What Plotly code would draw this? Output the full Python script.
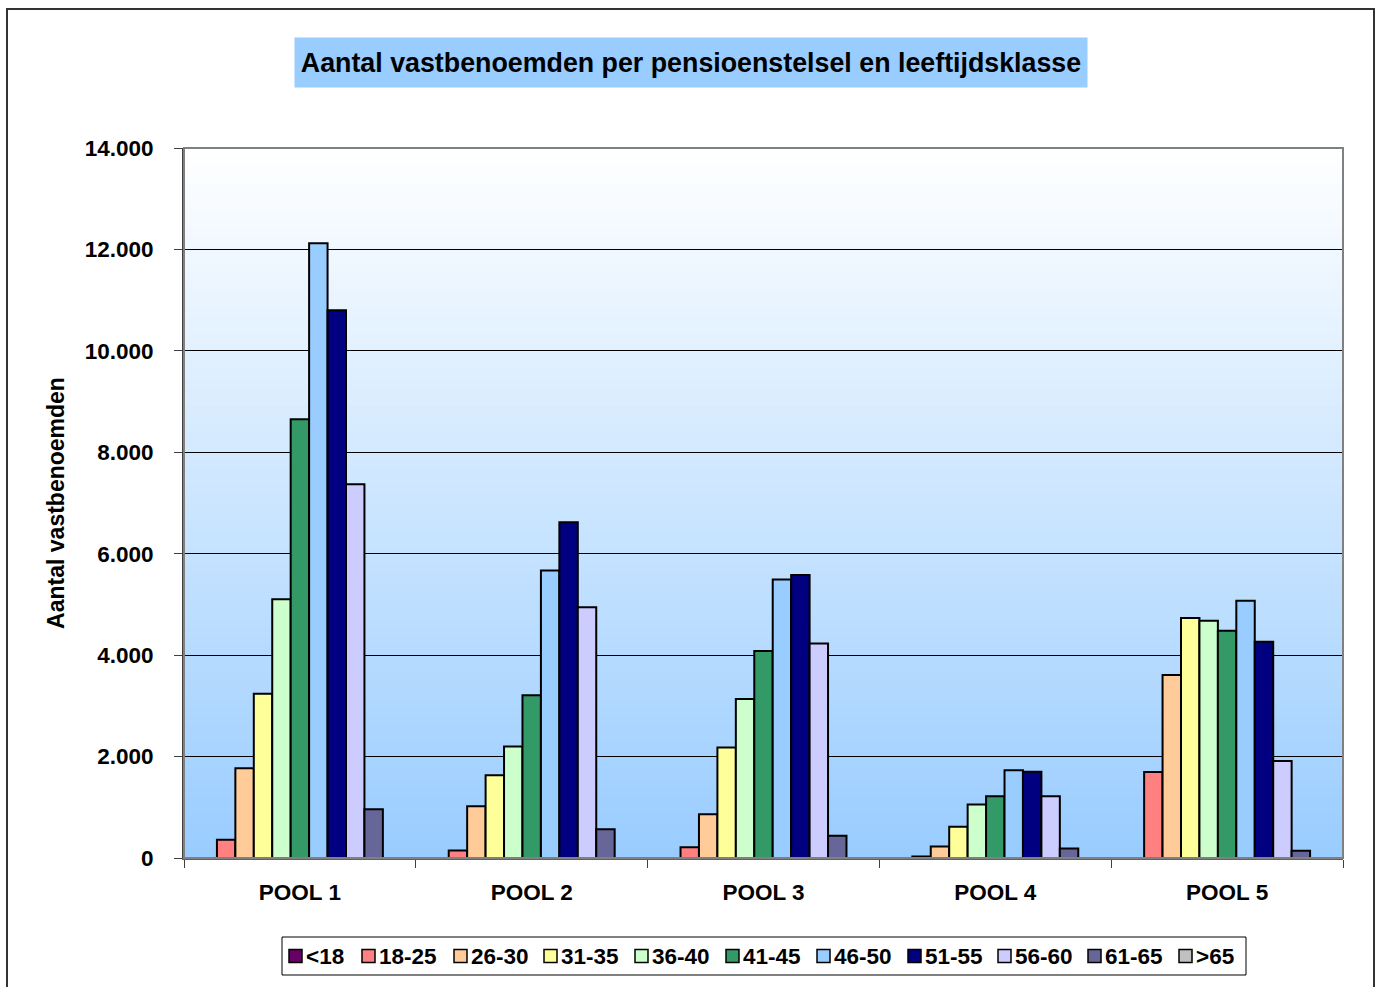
import plotly.graph_objects as go

pools = ["POOL 1", "POOL 2", "POOL 3", "POOL 4", "POOL 5"]
age_classes = ["<18", "18-25", "26-30", "31-35", "36-40", "41-45",
               "46-50", "51-55", "56-60", "61-65", ">65"]

v_lt18 = [0, 0, 0, 0, 0]
v_18_25 = [360, 150, 210, 30, 1695]
v_26_30 = [1770, 1020, 865, 225, 3610]
v_31_35 = [3240, 1630, 2180, 615, 4730]
v_36_40 = [5100, 2200, 3135, 1055, 4680]
v_41_45 = [8650, 3210, 4080, 1220, 4480]
v_46_50 = [12120, 5670, 5490, 1730, 5075]
v_51_55 = [10800, 6620, 5580, 1700, 4265]
v_56_60 = [7370, 4945, 4230, 1220, 1915]
v_61_65 = [960, 565, 440, 185, 145]
v_gt65 = [0, 0, 0, 0, 0]

series_values = [v_lt18, v_18_25, v_26_30, v_31_35, v_36_40, v_41_45,
                 v_46_50, v_51_55, v_56_60, v_61_65, v_gt65]
colors = ["#660066", "#FF8080", "#FFCC99", "#FFFF99", "#CCFFCC", "#339966",
          "#99CCFF", "#000080", "#CCCCFF", "#666699", "#C0C0C0"]

FONT = "Liberation Sans, Arial, sans-serif"
FS = 22.5

# figure geometry (pixels)
W, H = 1378, 987
ML, MR, MT, MB = 184, 35, 148, 129
PW, PH = W - ML - MR, H - MT - MB


def px(x):
    return (x - ML) / PW


def py(y):
    return (H - MB - y) / PH


fig = go.Figure()
for name, vals, col in zip(age_classes, series_values, colors):
    fig.add_trace(go.Bar(
        x=pools, y=vals, name=name, showlegend=False,
        marker=dict(color=col, line=dict(color="black", width=2)),
    ))

shapes = []
# gradient background of the plot area (overlapping strips to avoid seams)
N = 80
top = (255, 255, 255)
bot = (153, 204, 255)
for i in range(N):
    f = (i + 0.5) / N
    c = tuple(int(round(bot[k] + (top[k] - bot[k]) * f)) for k in range(3))
    shapes.append(dict(type="rect", xref="paper", yref="paper",
                       x0=0, x1=1, y0=i / N, y1=min(1.0, (i + 1.6) / N),
                       fillcolor="rgb(%d,%d,%d)" % c, line=dict(width=0),
                       layer="below"))
# plot area border
shapes.append(dict(type="rect", xref="paper", yref="paper", x0=0, x1=1, y0=0, y1=1,
                   line=dict(color="#808080", width=2), layer="above"))
# outer chart frame
shapes.append(dict(type="rect", xref="paper", yref="paper",
                   x0=px(7), x1=px(1374), y0=py(1010), y1=py(9),
                   line=dict(color="#333333", width=2), layer="above"))

annotations = [dict(
    text="<b>Aantal vastbenoemden per pensioenstelsel en leeftijdsklasse</b>",
    xref="paper", yref="paper", x=px(691), y=py(63),
    xanchor="center", yanchor="middle", showarrow=False,
    bgcolor="#99CCFF", width=790, height=47,
    font=dict(family=FONT, size=26.8, color="black"))]

# legend (box, swatches, labels)
leg_sym_x = [289, 362, 454, 544, 635, 726, 817, 908, 998, 1088, 1179]
leg_y = 956
shapes.append(dict(type="rect", xref="paper", yref="paper",
                   x0=px(282), x1=px(1246), y0=py(975), y1=py(937),
                   line=dict(color="black", width=1), fillcolor="white",
                   layer="above"))
for name, col, sx in zip(age_classes, colors, leg_sym_x):
    shapes.append(dict(type="rect", xref="paper", yref="paper",
                       x0=px(sx), x1=px(sx + 13), y0=py(leg_y + 6.5), y1=py(leg_y - 6.5),
                       fillcolor=col, line=dict(color="black", width=1.5),
                       layer="above"))
    annotations.append(dict(text="<b>%s</b>" % name.replace("<", "&lt;").replace(">", "&gt;"),
                            xref="paper", yref="paper", x=px(sx + 16), y=py(leg_y),
                            xanchor="left", yanchor="middle", showarrow=False,
                            borderpad=0,
                            font=dict(family=FONT, size=FS, color="black")))

fig.update_layout(
    width=W, height=H,
    margin=dict(l=ML, r=MR, t=MT, b=MB),
    paper_bgcolor="white",
    plot_bgcolor="rgba(0,0,0,0)",
    separators=",.",
    barmode="group",
    bargap=0.125,
    bargroupgap=0,
    font=dict(family=FONT, size=FS, color="black"),
    shapes=shapes,
    annotations=annotations,
    showlegend=False,
)
fig.update_yaxes(
    range=[0, 14000], dtick=2000, tickformat=",d",
    showgrid=True, gridcolor="black", gridwidth=1,
    ticks="outside", ticklen=8, tickcolor="#404040",
    showline=True, linecolor="#404040", linewidth=2,
    ticklabelstandoff=16,
    tickfont=dict(family=FONT, size=FS, color="black", weight="bold"),
    title=dict(text="<b>Aantal vastbenoemden</b>", standoff=14,
               font=dict(family=FONT, size=23, color="black")),
    zeroline=False,
)
fig.update_xaxes(
    tickson="boundaries", ticks="outside", ticklen=8, tickcolor="#404040",
    showline=True, linecolor="#606060", linewidth=2,
    ticklabelstandoff=13,
    tickfont=dict(family=FONT, size=FS, color="black", weight="bold"),
    showgrid=False,
)
fig.write_html("out.html", config={"displayModeBar": False},
               post_script="document.body.style.margin='0';")
